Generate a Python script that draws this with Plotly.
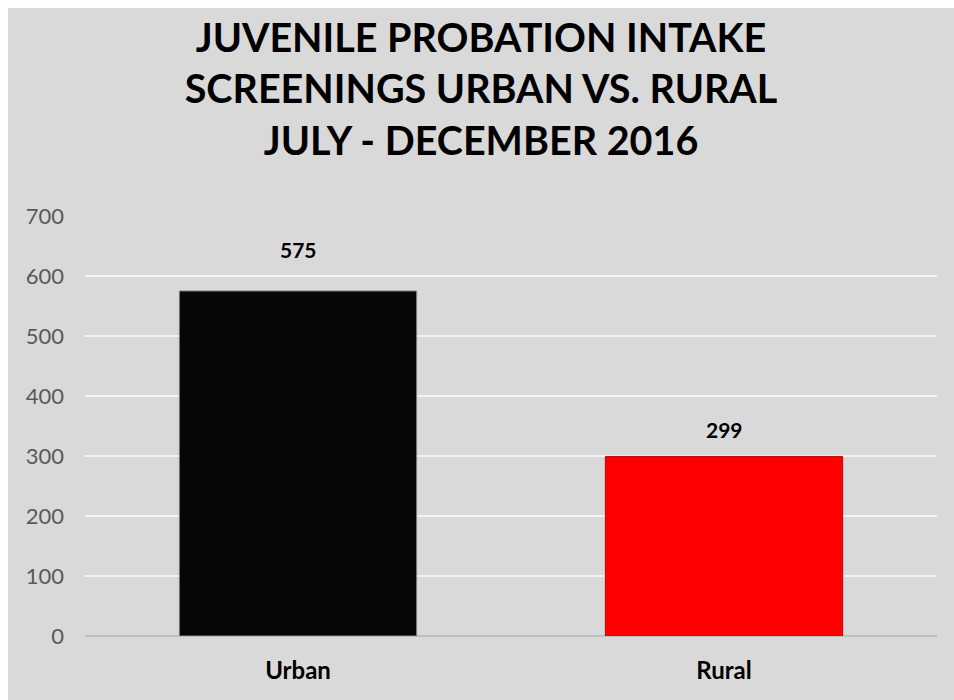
import plotly.graph_objects as go

categories = ["Urban", "Rural"]
values = [575, 299]
bar_colors = ["#060606", "#ff0000"]
bar_line_colors = ["#7f7f7f", "#c00000"]
label_shift = [27, 13]
y_ticks = [0, 100, 200, 300, 400, 500, 600, 700]

FONT = "Lato"
FIG_H = 692

fig = go.Figure()
fig.add_trace(go.Bar(
    x=categories, y=values,
    marker=dict(color=bar_colors, line=dict(color=bar_line_colors, width=1)),
    hoverinfo="skip",
))

for c, v, s in zip(categories, values, label_shift):
    fig.add_annotation(x=c, y=v, text="<b>%d</b>" % v, showarrow=False,
                       yanchor="bottom", yshift=s,
                       font=dict(family=FONT, size=21, color="#000000"))

fig.update_layout(
    width=946, height=FIG_H,
    margin=dict(l=77, r=17, t=208, b=64),
    paper_bgcolor="#d9d9d9", plot_bgcolor="#d9d9d9",
    bargap=0.443,
    showlegend=False,
    title=dict(
        text="<b>JUVENILE PROBATION INTAKE<br>SCREENINGS URBAN VS. RURAL<br>JULY - DECEMBER 2016</b>",
        x=0.5, xanchor="center", yref="container", y=1 - 44 / FIG_H, yanchor="middle",
        font=dict(family=FONT, size=39.5, color="#000000"),
    ),
    font=dict(family=FONT),
    xaxis=dict(
        tickfont=dict(family=FONT, size=24, color="#000000"),
        showgrid=False, showline=False, ticks="",
        tickprefix="<b>", ticksuffix="</b>", ticklabelstandoff=18,
    ),
    yaxis=dict(
        range=[0, 700], tickvals=y_ticks,
        tickfont=dict(family=FONT, size=22, color="#595959"),
        gridcolor="#f2f2f2", gridwidth=1.5,
        zeroline=True, zerolinecolor="#bfbfbf", zerolinewidth=2,
        showline=False, ticks="", ticklabelstandoff=20,
    ),
)

fig.write_html("out.html", post_script="document.body.style.margin='8px 0 0 8px';document.body.style.overflow='hidden';")
